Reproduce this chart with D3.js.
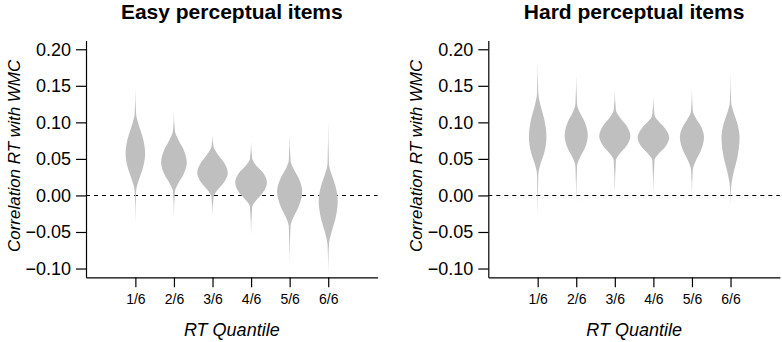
<!DOCTYPE html>
<html>
<head>
<meta charset="utf-8">
<script src="https://cdn.jsdelivr.net/npm/d3@7"></script>
<style>
body { margin: 0; background: #fff; }
svg { display: block; font-family: "Liberation Sans", Arial, Helvetica, sans-serif; }
</style>
</head>
<body>
<div id="chart"></div>
<script>

// titles and tick labels
var panelTitles = ["Easy perceptual items", "Hard perceptual items"];
var quantileLabels = ["1/6", "2/6", "3/6", "4/6", "5/6", "6/6"];
var yTicks = [-0.10, -0.05, 0.00, 0.05, 0.10, 0.15, 0.20];

// relative violin width at each profile point (tail, tip, ..., mode, ..., tip, tail)
var widthLevels = [0, 0.07, 0.35, 0.72, 1, 0.72, 0.35, 0.07, 0];

// correlation value at each profile point
var easyProfiles = [
	[-0.037, 0.005, 0.021, 0.035, 0.0575, 0.081, 0.096, 0.112, 0.146],
	[-0.029, 0.005, 0.017, 0.028, 0.045, 0.064, 0.076, 0.089, 0.114],
	[-0.027, -0.002, 0.008, 0.017, 0.031, 0.046, 0.056, 0.0665, 0.0825],
	[-0.053, -0.0156, -0.006, 0.003, 0.0173, 0.032, 0.0404, 0.0506, 0.073],
	[-0.093, -0.042, -0.028, -0.015, 0.005, 0.0235, 0.035, 0.048, 0.085],
	[-0.106, -0.068, -0.050, -0.0335, -0.0075, 0.0146, 0.0285, 0.044, 0.103]
];
var hardProfiles = [
	[-0.031, 0.028, 0.044, 0.057, 0.080, 0.106, 0.122, 0.140, 0.185],
	[-0.011, 0.040, 0.053, 0.064, 0.0825, 0.101, 0.112, 0.125, 0.165],
	[0.003, 0.048, 0.058, 0.067, 0.081, 0.0965, 0.106, 0.117, 0.144],
	[0.003, 0.048, 0.0573, 0.0657, 0.079, 0.0923, 0.1007, 0.110, 0.135],
	[0.000, 0.035, 0.0485, 0.0607, 0.080, 0.0955, 0.105, 0.116, 0.146],
	[-0.013, 0.012, 0.032, 0.050, 0.079, 0.100, 0.1133, 0.128, 0.169]
];

// max half width of each violin (x units)
var easyWidths = [0.253, 0.333, 0.396, 0.411, 0.326, 0.247];
var hardWidths = [0.227, 0.300, 0.404, 0.409, 0.313, 0.234];

function init(){

	var w = 782;
	var h = 342;

	//plot region of each panel
	var panelLeft = [86, 488.3];
	var top = 40.5;
	var pw = 291.6;
	var ph = 236.8;

	var svg = d3.select("#chart")
				.append("svg")
				.attr("width", w)
				.attr("height", h);

	var x = d3.scaleLinear().domain([-0.28, 7.28]).range([0, pw]);
	var y = d3.scaleLinear().domain([-0.112, 0.212]).range([ph, 0]);

	function drawPanel(p, title, profiles, widths){

		var g = svg.append("g")
					.attr("transform", "translate(" + panelLeft[p] + "," + top + ")");

		//reference line at zero
		g.append("line")
			.attr("x1", 0)
			.attr("x2", pw)
			.attr("y1", y(0))
			.attr("y2", y(0))
			.attr("stroke", "#000")
			.attr("stroke-width", 1.1)
			.attr("stroke-dasharray", "4,4");

		//violins
		profiles.forEach(function(prof, i){
			var pts = prof.map(function(v, k){
				return {v: v, w: widthLevels[k] * widths[i]};
			});
			var area = d3.area()
						.curve(d3.curveMonotoneY)
						.y(function(d){ return y(d.v); })
						.x0(function(d){ return x(i + 1 - d.w); })
						.x1(function(d){ return x(i + 1 + d.w); });
			g.append("path")
				.attr("d", area(pts))
				.attr("fill", "#bfbfbf");
		});

		//y axis
		var yAxis = g.append("g")
					.call(d3.axisLeft(y)
						.tickValues(yTicks)
						.tickSize(10)
						.tickSizeOuter(0)
						.tickPadding(5)
						.tickFormat(d3.format(".2f")));
		yAxis.attr("font-family", null).attr("font-size", 18);
		yAxis.selectAll("path, line").attr("stroke-width", 1.2);

		//x axis
		var xAxis = g.append("g")
					.attr("transform", "translate(0," + ph + ")")
					.call(d3.axisBottom(x)
						.tickValues([1, 2, 3, 4, 5, 6])
						.tickSize(10)
						.tickSizeOuter(0)
						.tickFormat(function(d){ return quantileLabels[d - 1]; }));
		xAxis.attr("font-family", null).attr("font-size", 14);
		xAxis.selectAll("path, line").attr("stroke-width", 1.2);
		xAxis.selectAll("text").attr("y", 27.2).attr("dy", null);

		//titles
		g.append("text")
			.attr("x", pw / 2)
			.attr("y", -21.5)
			.attr("text-anchor", "middle")
			.attr("font-weight", "bold")
			.attr("font-size", 21)
			.text(title);

		g.append("text")
			.attr("x", pw / 2)
			.attr("y", 295.5)
			.attr("text-anchor", "middle")
			.attr("font-style", "italic")
			.attr("font-size", 18)
			.text("RT Quantile");

		g.append("text")
			.attr("transform", "translate(-66.5," + (ph / 2 - 3) + ") rotate(-90)")
			.attr("text-anchor", "middle")
			.attr("font-style", "italic")
			.attr("font-size", 17)
			.text("Correlation RT with WMC");
	}

	drawPanel(0, panelTitles[0], easyProfiles, easyWidths);
	drawPanel(1, panelTitles[1], hardProfiles, hardWidths);
}

window.onload = init;
</script>
</body>
</html>
